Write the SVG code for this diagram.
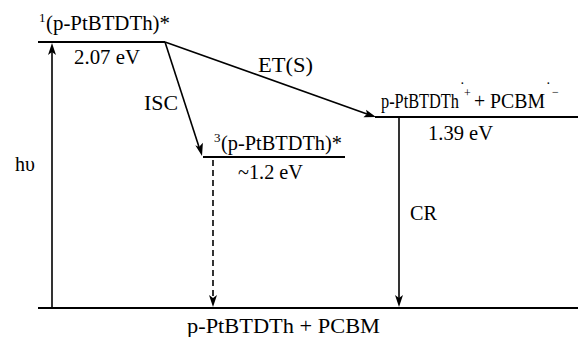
<svg xmlns="http://www.w3.org/2000/svg" width="578" height="337" viewBox="0 0 578 337">
<g id="ground">
<line stroke="#000" stroke-width="2" x1="38" y1="308" x2="578" y2="308"/>
<text x="187" y="333" style="font-family:'Liberation Serif';font-size:20px" textLength="193" lengthAdjust="spacingAndGlyphs">p-PtBTDTh + PCBM</text>
</g>
<g id="singlet">
<line stroke="#000" stroke-width="2" x1="38" y1="42" x2="165" y2="42"/>
<text x="39" y="22" style="font-family:'Liberation Serif';font-size:13px">1</text>
<text x="46" y="30" style="font-family:'Liberation Serif';font-size:20px" textLength="124" lengthAdjust="spacingAndGlyphs">(p-PtBTDTh)*</text>
<text x="74" y="64" style="font-family:'Liberation Serif';font-size:20px" textLength="66" lengthAdjust="spacingAndGlyphs">2.07 eV</text>
</g>
<g id="triplet">
<line stroke="#000" stroke-width="2" x1="203" y1="157" x2="345" y2="157"/>
<text x="214" y="142" style="font-family:'Liberation Serif';font-size:13px">3</text>
<text x="221" y="150" style="font-family:'Liberation Serif';font-size:20px" textLength="121" lengthAdjust="spacingAndGlyphs">(p-PtBTDTh)*</text>
<text x="238" y="179" style="font-family:'Liberation Serif';font-size:20px" textLength="65" lengthAdjust="spacingAndGlyphs">~1.2 eV</text>
</g>
<g id="ct">
<line stroke="#000" stroke-width="2" x1="375" y1="117" x2="578" y2="117"/>
<text x="381" y="108" style="font-family:'Liberation Serif';font-size:20px" textLength="78" lengthAdjust="spacingAndGlyphs">p-PtBTDTh</text>
<text x="460" y="88" style="font-family:'Liberation Serif';font-size:14px">&#183;</text>
<text x="464" y="97" style="font-family:'Liberation Serif';font-size:12px">+</text>
<text x="474" y="108" style="font-family:'Liberation Serif';font-size:20px" textLength="71" lengthAdjust="spacingAndGlyphs">+ PCBM</text>
<text x="546" y="88" style="font-family:'Liberation Serif';font-size:14px">&#183;</text>
<text x="552" y="96" style="font-family:'Liberation Serif';font-size:12px">&#8722;</text>
<text x="428" y="140" style="font-family:'Liberation Serif';font-size:20px" textLength="65" lengthAdjust="spacingAndGlyphs">1.39 eV</text>
</g>
<g id="connectors">
<line stroke="#000" stroke-width="1.6" x1="52" y1="308" x2="52" y2="52"/>
<path d="M52,43 L56,55 L52,52 L48,55 Z" fill="#000"/>
<line stroke="#000" stroke-width="1.6" x1="165" y1="42" x2="199" y2="147"/>
<path d="M202,156 L195.3,145.2 L199,147 L202.9,142.8 Z" fill="#000"/>
<line stroke="#000" stroke-width="1.6" x1="165" y1="42" x2="367" y2="114"/>
<path d="M376,117 L363.4,117.2 L367,114 L366.1,109.7 Z" fill="#000"/>
<line stroke="#000" stroke-width="1.6" x1="213" y1="160" x2="213" y2="298" stroke-dasharray="6,4"/>
<path d="M213,307 L209,295 L213,298 L217,295 Z" fill="#000"/>
<line stroke="#000" stroke-width="1.6" x1="399" y1="117" x2="399" y2="298"/>
<path d="M399,307 L395,295 L399,298 L403,295 Z" fill="#000"/>
</g>
<g id="labels">
<text x="15" y="171" style="font-family:'Liberation Serif';font-size:20px">h&#965;</text>
<text x="144" y="110" style="font-family:'Liberation Serif';font-size:20px" textLength="34" lengthAdjust="spacingAndGlyphs">ISC</text>
<text x="258" y="72" style="font-family:'Liberation Serif';font-size:20px" textLength="55" lengthAdjust="spacingAndGlyphs">ET(S)</text>
<text x="410" y="220" style="font-family:'Liberation Serif';font-size:20px" textLength="27" lengthAdjust="spacingAndGlyphs">CR</text>
</g>
</svg>
